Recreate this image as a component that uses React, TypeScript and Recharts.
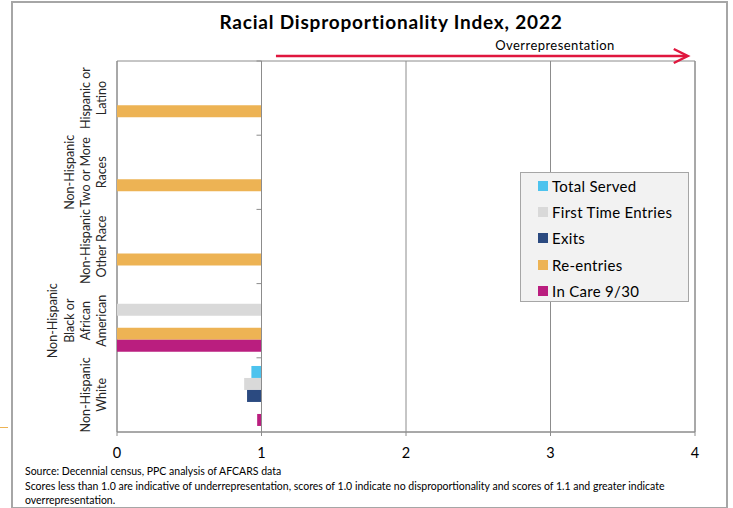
import React from "react";
import { Bar, BarChart, CartesianGrid, Legend, ReferenceArea, ReferenceLine, XAxis, YAxis } from "recharts";

const categories = [
	"Hispanic or Latino",
	"Non-Hispanic Two or More Races",
	"Non-Hispanic Other Race",
	"Non-Hispanic Black or African American",
	"Non-Hispanic White",
];
const categoryLines = [
	["Hispanic or", "Latino"],
	["Non-Hispanic", "Two or More", "Races"],
	["Non-Hispanic", "Other Race"],
	["Non-Hispanic", "Black or", "African", "American"],
	["Non-Hispanic", "White"],
];

// index values per category; null = no bar
const totalServed = [null, null, null, null, 0.93];
const firstTimeEntries = [null, null, null, 0, 0.88];
const exits = [null, null, null, null, 0.9];
const reEntries = [0, 0, 0, 0, null];
const inCare = [null, null, null, 0, 0.97];

const seriesNames = ["Total Served", "First Time Entries", "Exits", "Re-entries", "In Care 9/30"];
const seriesColors = ["#4DC3EE", "#D9D9D9", "#2B4A80", "#EDB354", "#BA1E7F"];
const seriesValues = [totalServed, firstTimeEntries, exits, reEntries, inCare];

const xTicks = [0, 1, 2, 3, 4];
const axisCross = 1; // bars run from the value to 1.0
const arrowFrom = 1.1;
const arrowTo = 3.95;

const rows = categories.map((name, i) => {
	const row: any = { name, idx: i };
	seriesValues.forEach((vals, s) => {
		const v = vals[i];
		row["s" + s] = v === null ? null : [v, axisCross];
	});
	return row;
});

const FONT = "Lato, 'Open Sans', sans-serif";
const GRID = "#8c8c8c";

// plot box used only for the overlay arrow
const plotLeft = 117;
const plotRight = 695;
const xPos = (v: number) => plotLeft + ((plotRight - plotLeft) * v) / 4;

function CategoryTick(props: any) {
	const { x, y, payload } = props;
	const lines = categoryLines[payload.index] || [payload.value];
	const n = lines.length;
	return (
		<g transform={`translate(${x - 11},${y}) rotate(-90)`}>
			<text textAnchor="middle" fontSize={12.5} fill="#262626" fontFamily={FONT}>
				{lines.map((l, i) => (
					<tspan key={i} x={0} y={-(n - 1 - i) * 16.2}>
						{l}
					</tspan>
				))}
			</text>
		</g>
	);
}

function CrossLine(props: any) {
	const { x1, y1, x2, y2 } = props;
	if (x1 === undefined) return null;
	const top = Math.min(y1, y2);
	const bottom = Math.max(y1, y2);
	const step = (bottom - top) / categories.length;
	return (
		<g>
			<line x1={x1} y1={top} x2={x2} y2={bottom} stroke={GRID} strokeWidth={1} />
			{categories.map((_, i) => (
				<line key={i} x1={x1 - 5} x2={x1} y1={top + step * i} y2={top + step * i} stroke={GRID} strokeWidth={1} />
			))}
		</g>
	);
}

function LegendBox() {
	return (
		<div
			style={{
				width: 167,
				height: 128,
				background: "#f2f2f2",
				border: "1px solid #a6a6a6",
				boxSizing: "content-box",
				fontFamily: FONT,
			}}
		>
			{seriesNames.map((n, i) => (
				<div key={n} style={{ height: 26.2, display: "flex", alignItems: "center", paddingLeft: 17 }}>
					<span style={{ width: 10, height: 10, background: seriesColors[i], display: "inline-block", marginRight: 4 }} />
					<span style={{ fontSize: 15, letterSpacing: 0.3, color: "#000" }}>{n}</span>
				</div>
			))}
		</div>
	);
}

export default function App() {
	return (
		<div style={{ position: "absolute", left: 0, top: 0, width: 733, height: 508, background: "#fff", fontFamily: FONT }}>
			<div style={{ position: "absolute", left: 11, top: 1, width: 713, height: 504, border: "2px solid #a6a6a6" }} />
			<div style={{ position: "absolute", left: 0, top: 427, width: 8, height: 1, background: "#EDB354" }} />
			<div
				style={{
					position: "absolute",
					left: 141,
					width: 500,
					top: 10,
					textAlign: "center",
					fontSize: 19,
					letterSpacing: 0.8,
					fontWeight: 700,
					color: "#000",
				}}
			>
				Racial Disproportionality Index, 2022
			</div>
			<div
				style={{
					position: "absolute",
					left: 455,
					width: 200,
					top: 37,
					textAlign: "center",
					fontSize: 13,
					letterSpacing: 0.45,
					color: "#000",
				}}
			>
				Overrepresentation
			</div>
			<div style={{ position: "absolute", left: 0, top: 0 }}>
				<BarChart
					width={733}
					height={508}
					data={rows}
					layout="vertical"
					margin={{ top: 61, right: 38, bottom: 36, left: 17 }}
					barCategoryGap="11%"
					barGap={0}
				>
					<CartesianGrid horizontal={false} stroke={GRID} />
					<ReferenceArea x1={0} x2={4} stroke={GRID} fill="none" fillOpacity={0} />
					<XAxis
						type="number"
						domain={[0, 4]}
						ticks={xTicks}
						tickSize={4}
						tickMargin={12}
						stroke={GRID}
						tick={{ fill: "#000", fontSize: 14.5, fontFamily: FONT }}
						height={40}
					/>
					<YAxis
						type="category"
						dataKey="name"
						width={100}
						axisLine={false}
						tickLine={false}
						tickSize={0}
						tickMargin={0}
						interval={0}
						tick={<CategoryTick />}
					/>
					{seriesNames.map((n, s) => (
						<Bar key={n} dataKey={"s" + s} name={n} fill={seriesColors[s]} isAnimationActive={false} />
					))}
					<ReferenceLine x={axisCross} shape={<CrossLine />} />
					<Legend
						layout="vertical"
						align="center"
						verticalAlign="middle"
						content={<LegendBox />}
						wrapperStyle={{ left: 520, top: 172, width: 169, height: 130 }}
					/>
				</BarChart>
			</div>
			<svg width={733} height={508} style={{ position: "absolute", left: 0, top: 0, pointerEvents: "none" }}>
				<line x1={xPos(arrowFrom)} y1={56} x2={xPos(arrowTo) - 1} y2={56} stroke="#E0173E" strokeWidth={2.5} />
				<polyline
					points={`${xPos(arrowTo) - 14},49 ${xPos(arrowTo)},56 ${xPos(arrowTo) - 14},63`}
					fill="none"
					stroke="#E0173E"
					strokeWidth={2.5}
				/>
			</svg>
			<div style={{ position: "absolute", left: 25, top: 464, fontSize: 10.5, lineHeight: "14.5px", color: "#000" }}>
				<div>Source: Decennial census, PPC analysis of AFCARS data</div>
				<div>
					Scores less than 1.0 are indicative of underrepresentation, scores of 1.0 indicate no disproportionality and scores of 1.1 and greater indicate
				</div>
				<div>overrepresentation.</div>
			</div>
		</div>
	);
}
